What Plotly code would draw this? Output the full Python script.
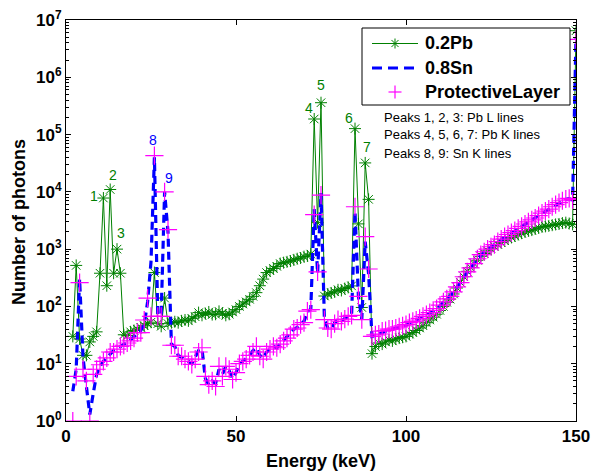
import math
import plotly.graph_objects as go

# ---------------- data ----------------
energy_kev = list(range(2, 151))

counts_02pb = [
    30, 520, 27, 14, 14, 24, 30, 36,                                   # 2-9
    380, 7800, 230, 11000, 380, 1000, 380, 32, 31, 36,                 # 10-19
    38, 40, 43, 46, 50, 53, 390, 50, 45, 140,                          # 20-29
    50, 52, 54, 52, 56, 58, 56, 62, 66, 78,                            # 30-39
    70, 75, 80, 72, 73, 82, 76, 70, 73, 80,                            # 40-49
    88, 100, 110, 120, 133, 150, 174, 230, 300, 390,                   # 50-59
    420, 460, 500, 560, 580, 600, 620, 650, 680, 700,                  # 60-69
    740, 760, 820, 187000, 2900, 360000, 152, 165, 172, 180,           # 70-79
    195, 190, 205, 215, 228, 127000, 2760, 96, 32000, 7400,            # 80-89
    15, 20, 23, 22, 24, 26, 25, 27, 28, 29,                            # 90-99
    30, 33, 35, 38, 42, 46, 52, 58, 65, 73,                            # 100-109
    85, 100, 118, 134, 165, 210, 262, 330, 410, 480,                   # 110-119
    560, 640, 750, 840, 930, 1020, 1120, 1210, 1300, 1400,             # 120-129
    1520, 1600, 1700, 1800, 1900, 2000, 2080, 2150, 2250, 2350,        # 130-139
    2450, 2500, 2550, 2620, 2700, 2750, 2850, 2900, 2800, 2700,        # 140-149
    6500000,                                                           # 150
]

counts_08sn = [
    3.3, 8, 300, 13, 4, 1.3, 3, 6.5,                                   # 2-9
    9, 11, 12.7, 15, 17, 18, 20, 22, 23, 26,                           # 10-19
    30, 33, 38, 48, 120, 600, 40000, 70, 75, 10000,                    # 20-29
    2000, 22, 20, 14, 13, 12, 11, 10, 13, 17,                          # 30-39
    18, 5.5, 4.3, 5, 4.5, 8, 6.5, 9, 7.5, 5.5,                         # 40-49
    7, 10, 11, 12.5, 14, 17, 19, 14, 12.5, 16,                         # 50-59
    18, 20, 19, 22, 25, 29, 33, 40, 43, 48,                            # 60-69
    55, 80, 90, 5000, 380, 9500, 60, 42, 40, 52,                       # 70-79
    58, 55, 62, 66, 72, 4500, 150, 60, 1350, 370,                      # 80-89
    30, 31, 33, 36, 37, 39, 40, 41, 43, 45,                            # 90-99
    47, 51, 54, 57, 61, 66, 71, 77, 84, 91,                            # 100-109
    103, 118, 133, 150, 178, 218, 258, 325, 395, 465,                  # 110-119
    555, 670, 790, 890, 990, 1090, 1190, 1330, 1480, 1630,             # 120-129
    1780, 1930, 2080, 2280, 2480, 2720, 2970, 3220, 3480, 3820,        # 130-139
    4200, 4550, 4950, 5450, 5950, 6450, 6950, 7400, 7600, 7200,        # 140-149
    5000000,                                                           # 150
]

counts_protective = [
    1, 6, 260, 8, 5, 1, 6.5, 8,                                        # 2-9
    9.6, 11, 12.6, 16, 16, 18, 20, 21, 23, 25,                         # 10-19
    28, 35, 35, 58, 140, 67, 43000, 67, 67, 10000,                     # 20-29
    2200, 21, 21, 13.5, 13.5, 12, 11, 9.7, 12, 16,                     # 30-39
    19, 6, 4.3, 5, 4, 9, 6, 9, 8, 5.3,                                 # 40-49
    7, 10, 11, 12, 14, 16, 20, 13.5, 12, 16,                           # 50-59
    18, 20, 19, 22, 25, 28, 32, 40, 42, 48,                            # 60-69
    52, 83, 88, 4000, 400, 8800, 59, 42, 40, 50,                       # 70-79
    59, 55, 60, 67, 70, 5500, 150, 59, 1650, 450,                      # 80-89
    30, 32, 33, 37, 38, 40, 40, 42, 44, 46,                            # 90-99
    48, 52, 55, 58, 62, 67, 72, 78, 85, 92,                            # 100-109
    105, 120, 135, 150, 180, 220, 260, 330, 400, 470,                  # 110-119
    560, 680, 800, 900, 1000, 1100, 1200, 1350, 1500, 1650,            # 120-129
    1800, 1950, 2100, 2300, 2500, 2750, 3000, 3250, 3500, 3850,        # 130-139
    4250, 4600, 5000, 5500, 6000, 6500, 7000, 7500, 7700, 7300,        # 140-149
    4600000,                                                           # 150
]

series_names = ["0.2Pb", "0.8Sn", "ProtectiveLayer"]

# peak number labels
peak_labels = ["1", "2", "3", "4", "5", "6", "7", "8", "9"]
peak_label_energy = [8.3, 13.7, 16.2, 71.6, 75.0, 83.3, 88.6, 25.5, 30.4]
peak_label_count = [8500, 20000, 1950, 295000, 740000, 195000, 60000, 79000, 17500]
peak_label_series = ["pb", "pb", "pb", "pb", "pb", "pb", "pb", "sn", "sn"]

note_lines = ["Peaks 1, 2, 3: Pb L lines",
              "Peaks 4, 5, 6, 7: Pb K lines",
              "Peaks 8, 9: Sn K lines"]
note_energy = 93.0
note_counts = [200000, 99000, 47000]

x_ticks = [0, 50, 100, 150]
y_decades = [0, 1, 2, 3, 4, 5, 6, 7]

# ---------------- styling ----------------
GREEN = "#008000"
BLUE = "#0000FF"
MAGENTA = "#FF00FF"
FONT = "Liberation Sans, Arial, Helvetica, sans-serif"

W, H = 594, 473
M_L, M_R, M_T, M_B = 66, 18, 20, 52
PW, PH = W - M_L - M_R, H - M_T - M_B


def px(xp):
    return (xp - M_L) / PW


def py(yp):
    return (H - M_B - yp) / PH


fig = go.Figure()

fig.add_trace(go.Scatter(
    x=energy_kev, y=counts_02pb, name=series_names[0],
    mode="lines+markers",
    line=dict(color=GREEN, width=1),
    marker=dict(symbol="asterisk-open", size=10, color=GREEN,
                line=dict(color=GREEN, width=1)),
))
fig.add_trace(go.Scatter(
    x=energy_kev, y=counts_08sn, name=series_names[1],
    mode="lines",
    line=dict(color=BLUE, width=3.2, dash="8px,5px"),
))
fig.add_trace(go.Scatter(
    x=energy_kev, y=counts_protective, name=series_names[2],
    mode="markers",
    marker=dict(symbol="cross-thin-open", size=13, color=MAGENTA,
                line=dict(color=MAGENTA, width=1.2)),
))

colour_of = {"pb": GREEN, "sn": BLUE}
for txt, e, c, s in zip(peak_labels, peak_label_energy, peak_label_count, peak_label_series):
    fig.add_annotation(x=e, y=math.log10(c), text=txt, showarrow=False,
                       xref="x", yref="y", xanchor="center", yanchor="middle",
                       font=dict(family=FONT, size=14, color=colour_of[s]))

for txt, c in zip(note_lines, note_counts):
    fig.add_annotation(x=note_energy, y=math.log10(c), text=txt, showarrow=False,
                       xref="x", yref="y", xanchor="left", yanchor="middle",
                       font=dict(family=FONT, size=13, color="black"))

# ---------------- legend drawn by hand (MATLAB style box) ----------------
box = dict(x0=px(362), x1=px(570), y0=py(105), y1=py(28))
fig.add_shape(type="rect", xref="paper", yref="paper", layer="above",
              fillcolor="white", line=dict(color="black", width=1), **box)
rows = [43.5, 68, 92]
sx0, sx1, smid = px(372), px(418), px(395)
# 0.2Pb : thin line with asterisk
fig.add_shape(type="line", xref="paper", yref="paper", layer="above",
              x0=sx0, x1=sx1, y0=py(rows[0]), y1=py(rows[0]),
              line=dict(color=GREEN, width=1))
r = 5.0
for dx, dy in [(r, 0), (0, r), (r * 0.707, r * 0.707), (r * 0.707, -r * 0.707)]:
    fig.add_shape(type="line", xref="paper", yref="paper", layer="above",
                  x0=px(395 - dx), x1=px(395 + dx),
                  y0=py(rows[0] - dy), y1=py(rows[0] + dy),
                  line=dict(color=GREEN, width=1))
# 0.8Sn : thick dashed line
fig.add_shape(type="line", xref="paper", yref="paper", layer="above",
              x0=sx0, x1=sx1, y0=py(rows[1]), y1=py(rows[1]),
              line=dict(color=BLUE, width=3.2, dash="10px,6px"))
# ProtectiveLayer : plus marker only
r = 6.5
for dx, dy in [(r, 0), (0, r)]:
    fig.add_shape(type="line", xref="paper", yref="paper", layer="above",
                  x0=px(395 - dx), x1=px(395 + dx),
                  y0=py(rows[2] - dy), y1=py(rows[2] + dy),
                  line=dict(color=MAGENTA, width=1.2))
for name, rowy in zip(series_names, rows):
    fig.add_annotation(x=px(423), y=py(rowy), xref="paper", yref="paper",
                       text=name, showarrow=False, xanchor="left", yanchor="middle",
                       font=dict(family=FONT, size=18, color="black", weight="bold"))

# axis titles
fig.add_annotation(x=0.5, y=py(461), xref="paper", yref="paper",
                   text="Energy (keV)", showarrow=False,
                   xanchor="center", yanchor="middle",
                   font=dict(family=FONT, size=18, color="black", weight="bold"))
fig.add_annotation(x=px(19), y=py(222), xref="paper", yref="paper",
                   text="Number of photons", showarrow=False, textangle=-90,
                   xanchor="center", yanchor="middle",
                   font=dict(family=FONT, size=18, color="black", weight="bold"))

axis_common = dict(
    showline=True, linecolor="black", linewidth=1, mirror="allticks",
    ticks="inside", tickcolor="black", ticklen=5, tickwidth=1,
    showgrid=False, zeroline=False, automargin=False,
    tickfont=dict(family=FONT, size=17, color="black", weight="bold"),
)

minor_vals = [m * 10 ** d for d in range(0, 7) for m in range(2, 10)]

fig.update_xaxes(
    range=[0, 150], tickmode="array", tickvals=x_ticks,
    ticktext=[str(t) for t in x_ticks],
    **axis_common,
)
fig.update_yaxes(
    type="log", range=[0, 7], tickmode="array",
    tickvals=[10 ** d for d in y_decades],
    ticktext=["10<sup>%d</sup>" % d for d in y_decades],
    minor=dict(tickmode="array", tickvals=minor_vals, ticks="inside",
               ticklen=3, tickcolor="black", showgrid=False),
    **axis_common,
)

fig.update_layout(
    width=W, height=H,
    margin=dict(l=M_L, r=M_R, t=M_T, b=M_B, autoexpand=False),
    paper_bgcolor="white", plot_bgcolor="white",
    showlegend=False,
    font=dict(family=FONT),
)

fig.write_html("out.html",
               config={"displayModeBar": False},
               post_script="document.body.style.margin='0px';"
                           "document.body.style.padding='0px';")
